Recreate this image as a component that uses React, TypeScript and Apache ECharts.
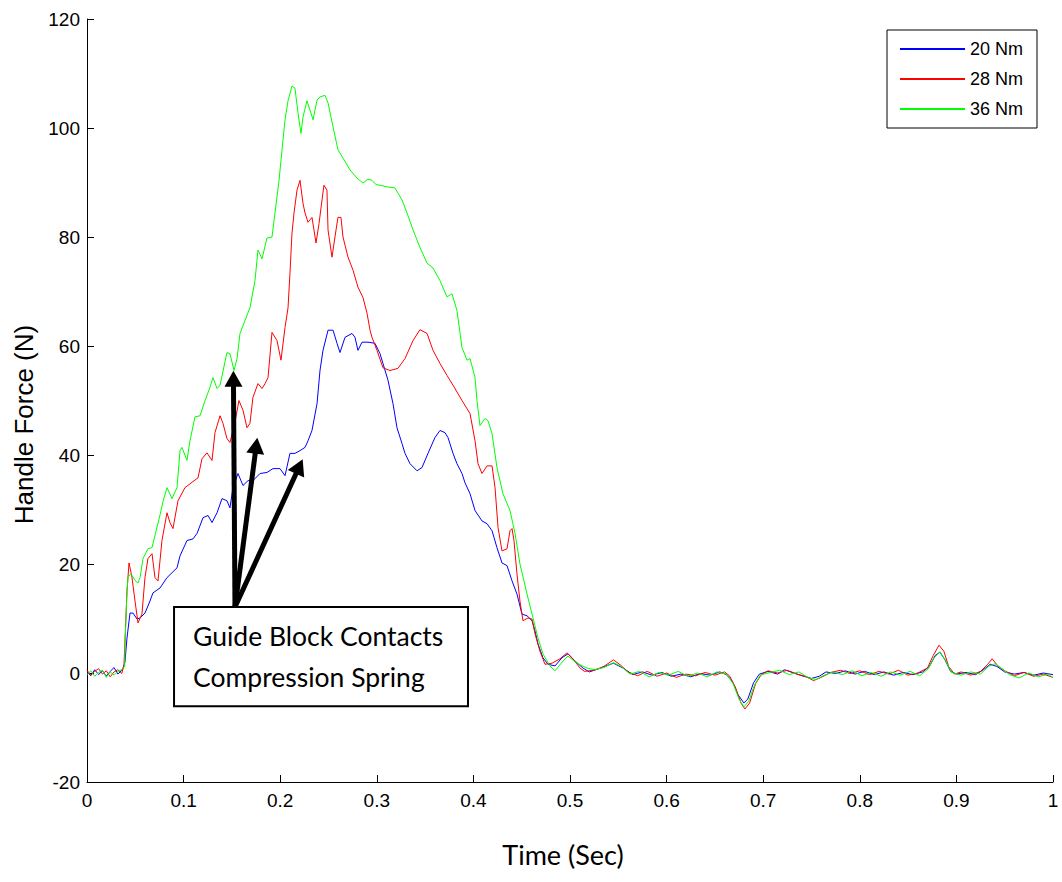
import React, { useEffect, useRef } from "react";
import * as echarts from "echarts";

// ---- Data (time in s, force in N) ----
const seriesNames = ["20 Nm", "28 Nm", "36 Nm"];
const seriesColors = ["#0000ff", "#ff0000", "#00ff00"];

const blue20: [number, number][] = [
  [0, 0.2], [0.004, -0.5], [0.008, 0.6], [0.012, -0.3], [0.016, 0.4], [0.02, -0.6], [0.024, 0.3], [0.028, 1.0], [0.032, -0.2], [0.036, 0.5], [0.0373, 0.9],
  [0.0393, 2], [0.0414, 6.4], [0.0445, 11], [0.0476, 11], [0.0518, 9.9], [0.0549, 10.1], [0.06, 11], [0.0652, 13.2], [0.0683, 14.7], [0.0756, 15.6],
  [0.0828, 17.5], [0.088, 18.4], [0.0932, 19.3], [0.0963, 21.5], [0.1035, 24.3], [0.1097, 24.6], [0.1139, 25.6], [0.1201, 28.5], [0.1253, 28.9],
  [0.1294, 27.6], [0.1346, 29.4], [0.1398, 32], [0.1449, 31.6], [0.148, 30.3], [0.1511, 34], [0.1563, 36.6], [0.1615, 34.4], [0.1667, 35.3],
  [0.1718, 35.3], [0.1791, 36.6], [0.1863, 36.8], [0.1925, 37.5], [0.1998, 37.5], [0.205, 36.2], [0.2101, 40.3], [0.2153, 40.3], [0.2205, 40.8],
  [0.2257, 41.4], [0.2288, 42.6], [0.2329, 44.5], [0.2381, 49.4], [0.2412, 55.5], [0.2443, 59.2], [0.2495, 62.9], [0.2547, 62.9], [0.2588, 60.5],
  [0.2619, 58.8], [0.2671, 61.6], [0.2743, 62.3], [0.2774, 61.6], [0.2805, 59.2], [0.2847, 60.7], [0.2909, 60.7], [0.2981, 60.5], [0.3033, 58.6],
  [0.3064, 56.8], [0.3116, 53.7], [0.3168, 49.4], [0.3209, 45], [0.3261, 42.1], [0.3292, 40.3], [0.3344, 38.4], [0.3416, 37.1], [0.3468, 37.7],
  [0.353, 40.3], [0.3602, 43.2], [0.3654, 44.5], [0.3706, 44.1], [0.3737, 43.2], [0.3789, 40.3], [0.383, 38.4], [0.3882, 36.6], [0.3913, 34.9],
  [0.3965, 32.9], [0.4017, 29.8], [0.4089, 27.9], [0.4141, 27.4], [0.4193, 26.1], [0.4244, 23], [0.4296, 20.2], [0.4348, 19.7], [0.44, 16.9],
  [0.4451, 14.5], [0.4503, 10.8], [0.4555, 10.5], [0.4607, 9.6], [0.4638, 7.7], [0.4669, 5.3], [0.472, 2.8], [0.4772, 1.6], [0.4845, 1.3],
  [0.4917, 2.8], [0.4979, 3.5], [0.5052, 2.2], [0.5135, 0.9],
  [0.52, 0.2], [0.53, 0.8], [0.545, 1.8], [0.555, 0.9], [0.565, -0.3], [0.575, 0.2], [0.585, -0.4], [0.595, 0.1], [0.605, -0.6], [0.615, -0.2],
  [0.625, -0.7], [0.635, -0.1], [0.645, -0.4], [0.655, 0.2], [0.662, -0.3], [0.668, -1.5], [0.674, -4], [0.68, -5.5], [0.684, -4.8], [0.69, -1.8],
  [0.696, -0.2], [0.705, 0.3], [0.715, -0.2], [0.722, 0.6], [0.73, 0.1], [0.74, -0.5], [0.75, -1.0], [0.758, -0.6], [0.765, 0.2], [0.775, -0.1],
  [0.785, 0.4], [0.795, -0.2], [0.805, 0.3], [0.815, -0.3], [0.825, 0.2], [0.835, -0.4], [0.845, 0.1], [0.855, -0.3], [0.865, 0.2], [0.872, 1.2],
  [0.878, 3.2], [0.883, 3.8], [0.888, 2.5], [0.894, 0.3], [0.9, -0.2], [0.91, 0.1], [0.92, -0.3], [0.928, 0.6], [0.935, 1.6], [0.942, 1.2],
  [0.95, 0.2], [0.96, -0.2], [0.97, 0.1], [0.98, -0.4], [0.99, 0.0], [1.0, -0.3],
];

const red28: [number, number][] = [
  [0, 0.5], [0.004, -0.4], [0.008, 0.3], [0.012, 0.8], [0.016, -0.2], [0.02, 0.4], [0.024, -0.7], [0.028, 0.2], [0.032, 0.6], [0.036, -0.1], [0.0383, 1.5],
  [0.0414, 15], [0.0435, 20.2], [0.0466, 17.5], [0.0497, 13.2], [0.0528, 9.2], [0.0569, 10.8], [0.06, 17.5], [0.0631, 21], [0.0673, 21.9],
  [0.0704, 17.5], [0.0735, 16.9], [0.0776, 24.3], [0.0828, 29.4], [0.0859, 27.6], [0.089, 26.5], [0.0942, 31.6], [0.1014, 34], [0.1087, 35],
  [0.1149, 35.8], [0.119, 39.3], [0.1242, 40.4], [0.1294, 39], [0.1325, 44.1], [0.1377, 47.2], [0.1408, 45.8], [0.1449, 43], [0.148, 42.3],
  [0.1532, 46], [0.1573, 50], [0.1615, 48.2], [0.1656, 45], [0.1687, 45.8], [0.1718, 50.6], [0.177, 53.1], [0.1812, 52.2], [0.1843, 53.1],
  [0.1874, 54.2], [0.1915, 62.5], [0.1967, 61], [0.2008, 57.4], [0.205, 63.4], [0.2081, 67], [0.2101, 73.3], [0.2122, 80.7], [0.2143, 84.4],
  [0.2174, 88.6], [0.2205, 90.4], [0.2236, 86.2], [0.2257, 84.4], [0.2288, 82.7], [0.2329, 83.6], [0.2371, 78.9], [0.2402, 82.5], [0.2433, 86.8],
  [0.2453, 89.5], [0.2484, 88.6], [0.2495, 81.3], [0.2536, 76.3], [0.2567, 80], [0.2598, 83.6], [0.2629, 83.6], [0.265, 80], [0.2702, 76.3],
  [0.2754, 73.9], [0.2805, 70.8], [0.2857, 68.9], [0.2899, 66], [0.293, 62.9], [0.295, 61.6], [0.3002, 59.2], [0.3064, 56], [0.3137, 55.5],
  [0.3219, 55.9], [0.3292, 57.7], [0.3375, 61], [0.3447, 63], [0.352, 62.3], [0.3582, 59.2], [0.3654, 56.8], [0.3727, 54.6], [0.3789, 52.8],
  [0.3882, 50], [0.3965, 47.6], [0.4017, 42.6], [0.4048, 38.4], [0.4089, 36.6], [0.4141, 38], [0.4193, 38], [0.4224, 34], [0.4255, 26.7],
  [0.4296, 22.4], [0.4348, 22.8], [0.4379, 26.1], [0.44, 26.5], [0.442, 24.3], [0.4451, 18.2], [0.4482, 13.2], [0.4513, 9.6], [0.4565, 10.1],
  [0.4607, 9.9], [0.4638, 7.2], [0.4689, 4], [0.4741, 1.6], [0.4814, 1.8], [0.4896, 2.6], [0.4969, 3.7], [0.5021, 2.8], [0.5104, 0.9],
  [0.515, 0.3], [0.525, 0.5], [0.535, 1.2], [0.545, 2.4], [0.552, 1.5], [0.56, 0.2], [0.57, -0.5], [0.58, 0.3], [0.59, -0.6], [0.6, 0.0],
  [0.61, -0.8], [0.62, -0.2], [0.63, -0.5], [0.64, 0.1], [0.65, -0.4], [0.66, 0.2], [0.665, -0.5], [0.671, -2.5], [0.677, -5.5], [0.681, -6.6],
  [0.686, -5.5], [0.692, -2], [0.698, -0.3], [0.705, 0.4], [0.715, 0.0], [0.725, 0.5], [0.735, -0.2], [0.745, -0.7], [0.752, -1.4], [0.76, -0.8],
  [0.77, 0.1], [0.78, 0.5], [0.79, -0.1], [0.8, 0.4], [0.81, -0.3], [0.82, 0.3], [0.83, -0.2], [0.84, 0.5], [0.85, -0.4], [0.86, 0.0],
  [0.87, 0.9], [0.876, 3.2], [0.882, 5.1], [0.887, 4.0], [0.892, 1.2], [0.898, -0.2], [0.905, 0.2], [0.915, -0.4], [0.925, 0.3], [0.932, 1.5],
  [0.937, 2.6], [0.943, 1.3], [0.95, 0.4], [0.96, -0.5], [0.97, 0.1], [0.98, -0.6], [0.99, -0.2], [1.0, -0.8],
];

const green36: [number, number][] = [
  [0, -0.3], [0.004, 0.4], [0.008, -0.6], [0.012, 0.1], [0.016, 0.5], [0.02, -0.8], [0.024, 0.2], [0.028, -0.4], [0.032, 0.3], [0.036, 0.6], [0.039, 1.2],
  [0.0393, 5], [0.0414, 15], [0.0424, 17.6], [0.0455, 18.2], [0.0497, 17], [0.0528, 16.5], [0.0549, 17.5], [0.058, 21], [0.0631, 22.8], [0.0673, 23],
  [0.0714, 26], [0.0756, 29], [0.0787, 31.5], [0.0828, 34], [0.088, 32], [0.0932, 34], [0.0963, 40.8], [0.0983, 41.4], [0.1035, 39], [0.1066, 42.6],
  [0.1118, 47], [0.117, 47.2], [0.1222, 50], [0.1273, 52.4], [0.1304, 54.2], [0.1346, 52.2], [0.1377, 52.8], [0.1449, 58.8], [0.148, 58.6],
  [0.1522, 55.5], [0.1553, 57.7], [0.1584, 62.3], [0.1636, 64.7], [0.1687, 67], [0.1739, 72], [0.177, 77.6], [0.1812, 76], [0.1863, 79.8],
  [0.1915, 80], [0.1946, 84.4], [0.1988, 90.4], [0.2019, 96], [0.205, 101.5], [0.2081, 105], [0.2122, 107.7], [0.2153, 107.3], [0.2184, 102.8],
  [0.2215, 99], [0.2236, 102], [0.2277, 105], [0.2308, 103.3], [0.234, 101.5], [0.2381, 105.1], [0.2412, 105.7], [0.2464, 106], [0.2495, 104.6],
  [0.2547, 100.2], [0.2598, 96], [0.265, 94.5], [0.2723, 92.3], [0.2795, 90.8], [0.2857, 89.9], [0.2909, 90.6], [0.295, 90.4], [0.2992, 89.6],
  [0.3033, 89.5], [0.3106, 89.2], [0.3188, 89], [0.3261, 86.8], [0.3313, 84.4], [0.3375, 81.3], [0.3447, 78.1], [0.352, 75.2], [0.3582, 74.3],
  [0.3654, 72], [0.3727, 69], [0.3778, 69.6], [0.383, 66.5], [0.3882, 59.7], [0.3934, 57.4], [0.3965, 57.7], [0.4017, 54.2], [0.4037, 50],
  [0.4068, 45.4], [0.412, 46.7], [0.4151, 46.3], [0.4193, 43.9], [0.4244, 37.7], [0.4306, 32.9], [0.4379, 29.8], [0.4431, 25.6], [0.4482, 20],
  [0.4555, 14.5], [0.4617, 10.1], [0.4669, 6.4], [0.472, 3.5], [0.4793, 1.3], [0.4845, 0.4], [0.4928, 2.2], [0.4979, 3.1], [0.5072, 1.8], [0.5176, 0.9],
  [0.525, 0.6], [0.535, 1.0], [0.545, 1.9], [0.553, 1.2], [0.562, -0.2], [0.572, 0.3], [0.582, -0.7], [0.592, 0.1], [0.602, -0.4], [0.612, 0.3],
  [0.622, -0.6], [0.632, 0.0], [0.642, -0.7], [0.652, 0.2], [0.662, -0.2], [0.669, -2.0], [0.675, -4.8], [0.68, -6.2], [0.685, -5.2], [0.691, -2.2],
  [0.697, -0.4], [0.707, 0.1], [0.717, 0.5], [0.727, -0.3], [0.737, 0.2], [0.747, -0.9], [0.755, -1.2], [0.762, -0.5], [0.772, 0.2], [0.782, -0.3],
  [0.792, 0.4], [0.802, -0.5], [0.812, 0.1], [0.822, -0.6], [0.832, 0.2], [0.842, -0.4], [0.852, 0.3], [0.862, -0.5], [0.871, 0.8], [0.877, 2.8],
  [0.883, 3.9], [0.889, 2.2], [0.895, 0.1], [0.905, -0.4], [0.915, 0.2], [0.925, -0.2], [0.933, 1.2], [0.94, 1.7], [0.947, 0.8], [0.955, -0.3],
  [0.965, -0.9], [0.975, 0.0], [0.985, -0.7], [0.995, -0.2], [1.0, -0.9],
];

// Annotation, in data coordinates
const arrowBase: [number, number] = [0.1532, 12.1];
const arrowTips: [number, number][] = [
  [0.1516, 54.0],
  [0.1752, 41.7],
  [0.2198, 37.9],
];
const noteBox: [number, number][] = [
  [0.0901, 12.1],
  [0.3944, -6.1],
];
const noteText = "Guide Block Contacts\nCompression Spring";

const xLabel = "Time (Sec)";
const yLabel = "Handle Force (N)";

export default function App() {
  const ref = useRef<HTMLDivElement>(null);

  useEffect(() => {
    if (!ref.current) return;
    const chart = echarts.init(ref.current, null, { renderer: "svg" });
    const axisFont = "'Liberation Sans', Arial, sans-serif";
    const noteFont = "Lato, 'Open Sans', sans-serif";
    const datas = [blue20, red28, green36];

    const series: any[] = datas.map((d, i) => ({
      name: seriesNames[i],
      type: "line",
      data: d,
      showSymbol: false,
      symbol: "none",
      color: seriesColors[i],
      lineStyle: { width: 1, color: seriesColors[i] },
      emphasis: { disabled: true },
      z: 2 + i,
    }));

    series.push({
      name: "annotation",
      type: "line",
      data: [],
      silent: true,
      z: 10,
      markArea: {
        silent: true,
        itemStyle: { color: "#ffffff", borderColor: "#000000", borderWidth: 2, opacity: 1 },
        label: {
          show: true,
          position: "insideLeft",
          distance: 20,
          formatter: noteText,
          fontFamily: noteFont,
          fontSize: 26.5,
          lineHeight: 41,
          color: "#000000",
          align: "left",
        },
        emphasis: { disabled: true },
        data: [[{ coord: noteBox[0] }, { coord: noteBox[1] }]],
      },
      markLine: {
        silent: true,
        symbol: ["none", "triangle"],
        symbolSize: [18, 16],
        lineStyle: { color: "#000000", width: 5, type: "solid" },
        label: { show: false },
        emphasis: { disabled: true },
        data: arrowTips.map((tip) => [{ coord: arrowBase }, { coord: tip }]),
      },
    });

    chart.setOption({
      animation: false,
      backgroundColor: "#ffffff",
      grid: { left: 87, right: 9, top: 19, bottom: 100, containLabel: false, outerBoundsMode: "none" },
      legend: {
        data: seriesNames,
        orient: "vertical",
        left: 887,
        top: 30,
        backgroundColor: "#ffffff",
        borderColor: "#000000",
        borderWidth: 1,
        borderRadius: 0,
        padding: [9, 14, 9, 13],
        itemGap: 10,
        itemWidth: 65,
        itemHeight: 2,
        icon: "rect",
        selectedMode: false,
        textStyle: { fontFamily: axisFont, fontSize: 18, lineHeight: 20, color: "#000000" },
      },
      xAxis: {
        type: "value",
        min: 0,
        max: 1,
        interval: 0.1,
        name: xLabel,
        nameLocation: "middle",
        nameGap: 59,
        nameTextStyle: { fontFamily: noteFont, fontSize: 27, color: "#000000", padding: [0, 14, 0, 0] },
        axisLine: { onZero: false, lineStyle: { color: "#000000", width: 1 } },
        axisTick: { inside: true, length: 7, lineStyle: { color: "#000000" } },
        axisLabel: { fontFamily: axisFont, fontSize: 19, color: "#000000", margin: 9 },
        splitLine: { show: false },
      },
      yAxis: {
        type: "value",
        min: -20,
        max: 120,
        interval: 20,
        name: yLabel,
        nameLocation: "middle",
        nameGap: 50,
        nameRotate: 90,
        nameTextStyle: { fontFamily: axisFont, fontSize: 26, color: "#000000", padding: [0, 48, 0, 0] },
        axisLine: { onZero: false, lineStyle: { color: "#000000", width: 1 } },
        axisTick: { inside: true, length: 7, lineStyle: { color: "#000000" } },
        axisLabel: { fontFamily: axisFont, fontSize: 19, color: "#000000", margin: 7 },
        splitLine: { show: false },
      },
      series,
    });

    return () => chart.dispose();
  }, []);

  return (
    <div
      ref={ref}
      style={{ position: "fixed", left: 0, top: 0, width: 1062, height: 882, background: "#fff" }}
    />
  );
}
